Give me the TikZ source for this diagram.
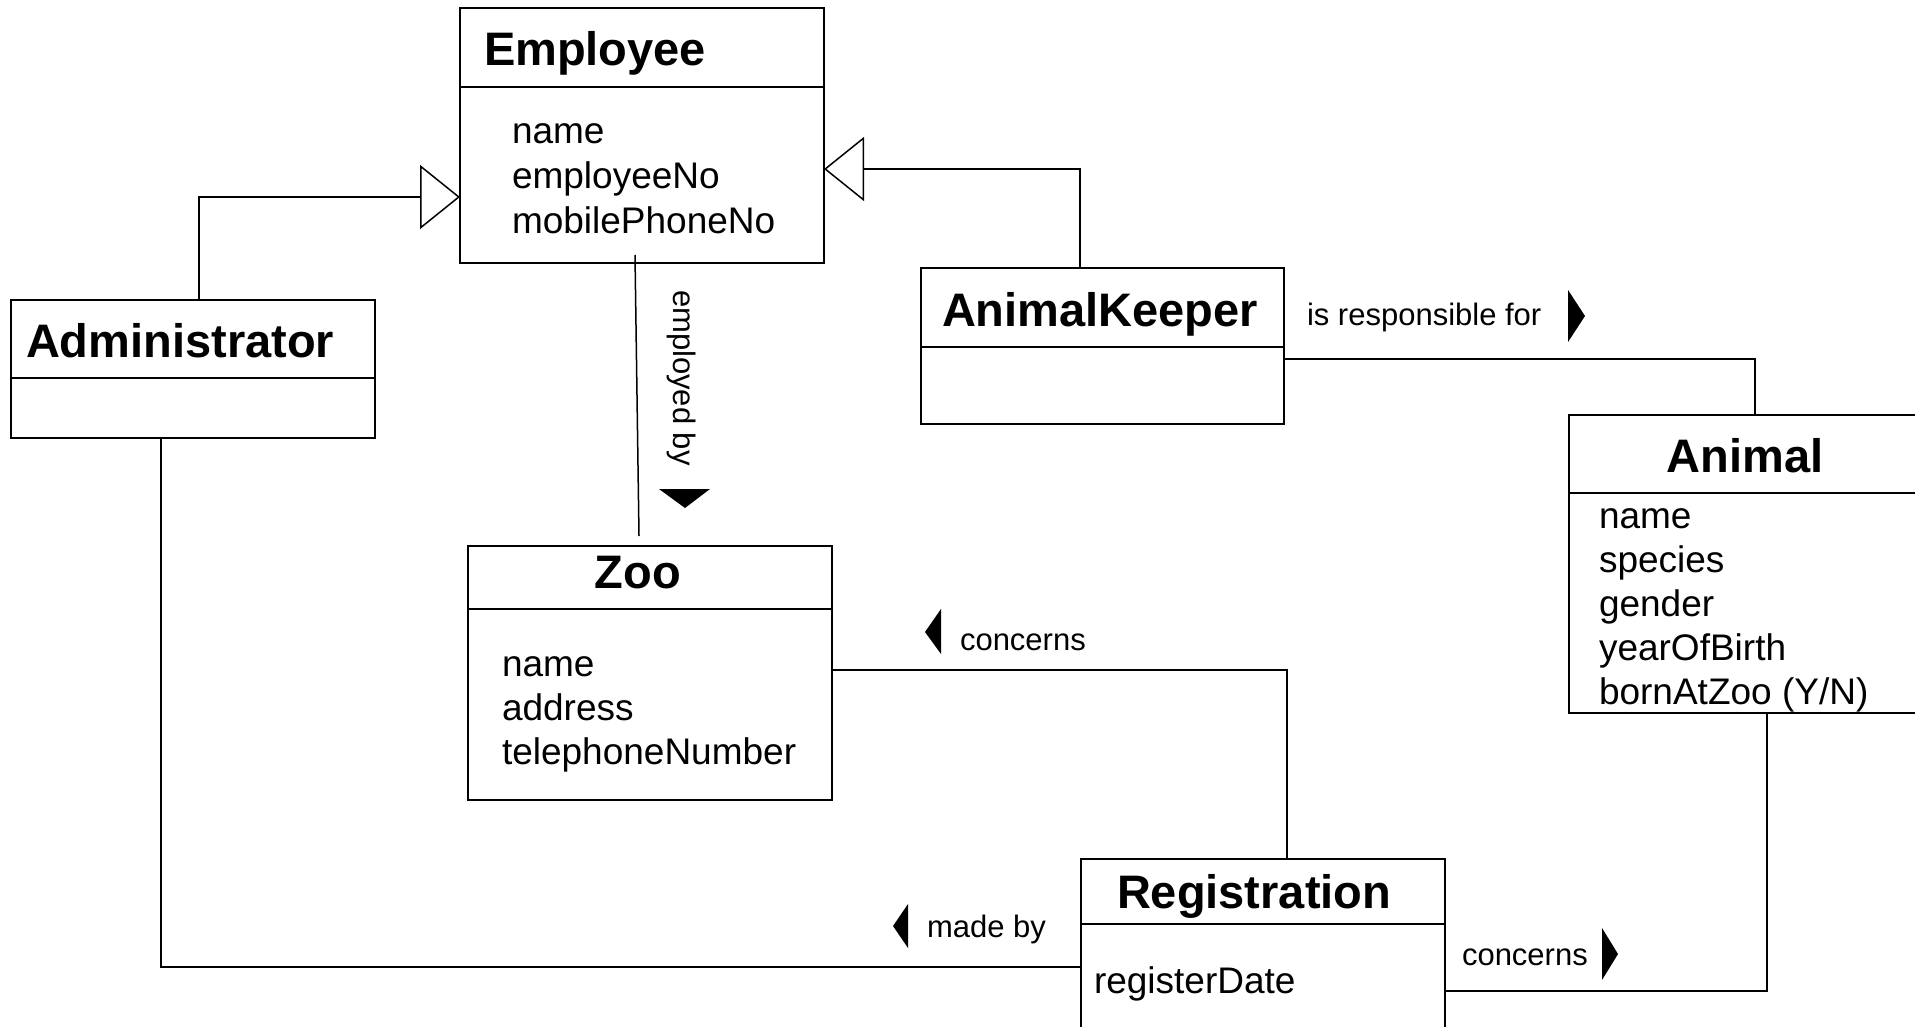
\documentclass[tikz,border=0pt]{standalone}
\usepackage{fontspec}
\setmainfont{Liberation Sans}
\usetikzlibrary{arrows.meta}

\begin{document}
\begin{tikzpicture}[x=0.5pt, y=-0.5pt,
      every node/.style = {inner sep=0pt, outer sep=0pt},
      classbox/.style = {draw, line width=1pt, anchor=north west},
      divline/.style = {line width=1pt},
      ctitle/.style = {font=\fontsize{23.5}{28}\selectfont\bfseries},
      attr/.style = {font=\fontsize{18.5}{22}\selectfont, anchor=base west},
      lbl/.style = {font=\fontsize{15.5}{18}\selectfont, anchor=base west},
      assoc/.style = {line width=0.75pt},
      inherit/.style = {line width=0.75pt,
        -{Triangle[open, length=20pt, width=32pt]}}]
      \useasboundingbox (0,0) rectangle (1915,1027);

      % classes
      \node[classbox, minimum width=182pt, minimum height=127.5pt] (emp) at (460,8) {};
      \draw[divline] ([yshift=-39.5pt]emp.north west) -- ([yshift=-39.5pt]emp.north east);
      \node[ctitle, anchor=base west] (empt) at (484,66) {Employee};
      \node[attr] (empa) at (512,144) {name};
      \node[attr] (empb) at (512,189) {employeeNo};
      \node[attr] (empc) at (512,234) {mobilePhoneNo};

      \node[classbox, minimum width=182pt, minimum height=69pt] (adm) at (11,300) {};
      \draw[divline] ([yshift=-39pt]adm.north west) -- ([yshift=-39pt]adm.north east);
      \node[ctitle, anchor=base west] (admt) at (26,357) {Administrator};

      \node[classbox, minimum width=181.5pt, minimum height=78pt] (ak) at (921,268) {};
      \draw[divline] ([yshift=-39.5pt]ak.north west) -- ([yshift=-39.5pt]ak.north east);
      \node[ctitle, anchor=base west] (akt) at (942,326) {AnimalKeeper};

      \node[classbox, minimum width=176pt, minimum height=149pt] (an) at (1569,415) {};
      \draw[divline] ([yshift=-39pt]an.north west) -- ([yshift=-39pt]an.north east);
      \node[ctitle, anchor=base] (ant) at (1745,472) {Animal};
      \node[attr] (ana) at (1599,528) {name};
      \node[attr] (anb) at (1599,572) {species};
      \node[attr] (anc) at (1599,616) {gender};
      \node[attr] (and) at (1599,660) {yearOfBirth};
      \node[attr] (ane) at (1599,704) {bornAtZoo (Y/N)};

      \node[classbox, minimum width=182pt, minimum height=127pt] (zoo) at (468,546) {};
      \draw[divline] ([yshift=-31.5pt]zoo.north west) -- ([yshift=-31.5pt]zoo.north east);
      \node[ctitle, anchor=base] (zoot) at (638,588) {Zoo};
      \node[attr] (zooa) at (502,676) {name};
      \node[attr] (zoob) at (502,720) {address};
      \node[attr] (zooc) at (502,764) {telephoneNumber};

      \node[classbox, minimum width=182pt, minimum height=100pt] (reg) at (1081,859) {};
      \draw[divline] ([yshift=-32.5pt]reg.north west) -- ([yshift=-32.5pt]reg.north east);
      \node[ctitle, anchor=base west] (regt) at (1117,908) {Registration};
      \node[attr] (rega) at (1094,993) {registerDate};

      % generalisations
      \coordinate (admup) at (199,197);
      \coordinate (akup) at (1080,169);
      \draw[inherit] (adm.north -| admup) -- (admup) -- (emp.west |- admup);
      \draw[inherit] (ak.north -| akup) -- (akup) -- (emp.east |- akup);

      % associations
      \draw[assoc] ([xshift=-3.5pt, yshift=4pt]emp.south) -- ([xshift=-5.5pt, yshift=5pt]zoo.north);
      \node[lbl, rotate=-90] (emplbl) at (673,290) {employed by};
      \fill (659,489) -- (710,489) -- (685,508) -- cycle;

      \coordinate (akan) at (1755,359);
      \draw[assoc] (ak.east |- akan) -- (akan) -- (an.north -| akan);
      \node[lbl] (aklbl) at (1307,325) {is responsible for};
      \fill (1568,290) -- (1568,342) -- (1585,316) -- cycle;

      \coordinate (zoreg) at (1287,670);
      \draw[assoc] (zoo.east |- zoreg) -- (zoreg) -- (reg.north -| zoreg);
      \node[lbl] (zolbl) at (960,650) {concerns};
      \fill (941,609) -- (941,654) -- (925,632) -- cycle;

      \coordinate (admreg) at (161,967);
      \draw[assoc, line width=0.9pt] (adm.south -| admreg) -- (admreg) -- (reg.west |- admreg);
      \node[lbl] (admlbl) at (927,937) {made by};
      \fill (908,904) -- (908,948) -- (893,926) -- cycle;

      \coordinate (regan) at (1767,991);
      \draw[assoc, line width=0.9pt] (reg.east |- regan) -- (regan) -- (an.south -| regan);
      \node[lbl] (reglbl) at (1462,965) {concerns};
      \fill (1602,928) -- (1602,980) -- (1618,954) -- cycle;
\end{tikzpicture}
\end{document}
